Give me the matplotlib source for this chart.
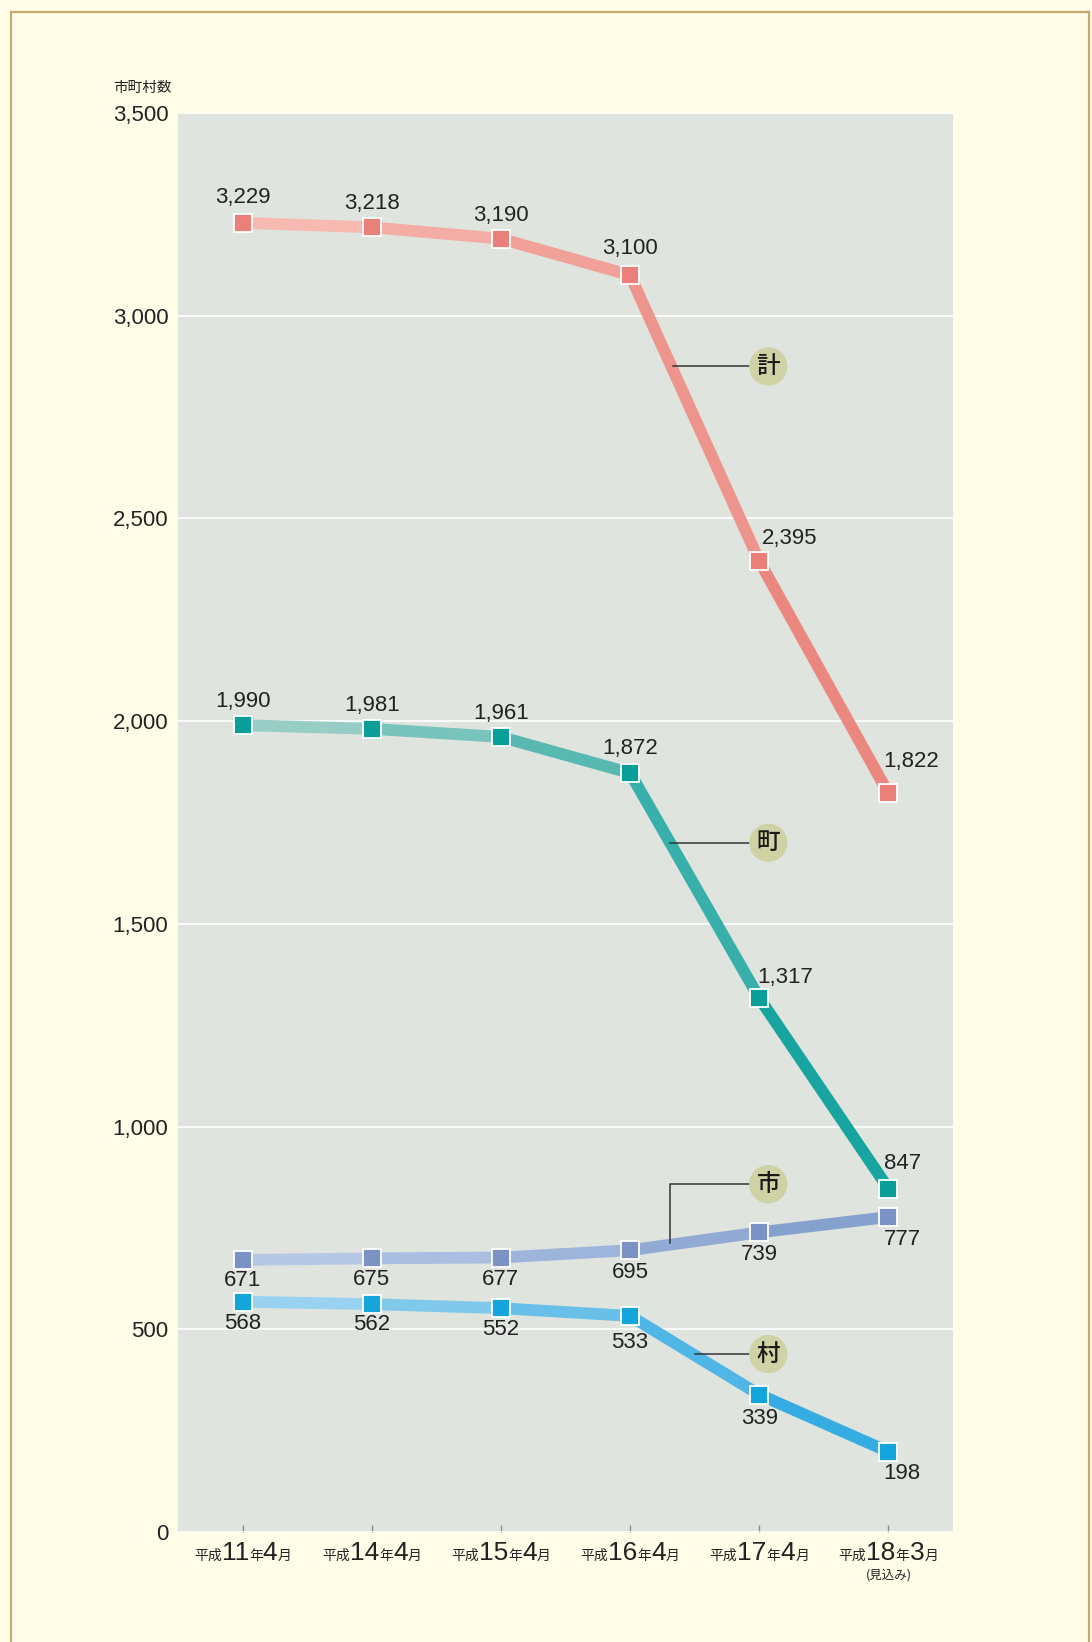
import matplotlib
matplotlib.use("Agg")
import matplotlib.pyplot as plt
import numpy as np
from matplotlib.collections import LineCollection
from matplotlib.colors import to_rgb
from matplotlib.offsetbox import TextArea, HPacker, AnnotationBbox
from matplotlib.lines import Line2D

plt.rcParams['font.family'] = ['Liberation Sans', 'Noto Sans CJK JP', 'DejaVu Sans']

# ---- data ----
periods = ["11", "14", "15", "16", "17", "18"]
months = ["4", "4", "4", "4", "4", "3"]
total = [3229, 3218, 3190, 3100, 2395, 1822]   # 計
towns = [1990, 1981, 1961, 1872, 1317, 847]    # 町
cities = [671, 675, 677, 695, 739, 777]        # 市
villages = [568, 562, 552, 533, 339, 198]      # 村
y_ticks = [0, 500, 1000, 1500, 2000, 2500, 3000, 3500]

W, H = 1092, 1642
fig = plt.figure(figsize=(W / 100, H / 100), dpi=100)
fig.patch.set_facecolor("#FFFDE8")

ax = fig.add_axes([178 / W, 1 - 1532 / H, (953 - 178) / W, (1532 - 113) / H])
ax.set_facecolor("#E0E4DF")
for s in ax.spines.values():
    s.set_visible(False)
ax.set_xlim(-0.5, 5.5)
ax.set_ylim(0, 3500)
ax.set_yticks(y_ticks)
ax.set_yticklabels([f"{v:,}" for v in y_ticks], fontsize=16, color="#222222")
ax.tick_params(axis="y", length=0, pad=7)
ax.set_xticks(range(len(periods)))
ax.tick_params(axis="x", direction="in", length=5, color="#8a8a8a", width=1, labelbottom=False)
ax.grid(axis="y", color="white", linewidth=1.2)
ax.set_axisbelow(True)

x = np.arange(len(periods))

series = [
    (total, "#F9C0B6", "#E8827A", "#E9807A"),
    (towns, "#A8D2CA", "#08A09C", "#0A9E98"),
    (cities, "#BDCDEA", "#7F9CCB", "#7A93C4"),
    (villages, "#A5D7F2", "#2AA8E0", "#14A6DA"),
]

for vals, c0, c1, mc in series:
    pts = np.column_stack([x, vals])
    segs = [pts[i:i + 2] for i in range(len(pts) - 1)]
    a, b = np.array(to_rgb(c0)), np.array(to_rgb(c1))
    n = len(segs)
    cols = [a + (b - a) * ((i + 0.5) / n) for i in range(n)]
    lc = LineCollection(segs, colors=cols, linewidths=8.5, capstyle="round", zorder=3)
    ax.add_collection(lc)
    ax.plot(x, vals, linestyle="none", marker="s", markersize=12.5, markerfacecolor=mc,
            markeredgecolor="white", markeredgewidth=1.3, zorder=5)

# data labels: offsets in points
def label(vals, offs):
    for xi, v, (dx, dy) in zip(x, vals, offs):
        ax.annotate(f"{v:,}", (xi, v), xytext=(dx, dy), textcoords="offset points",
                    ha="center", va="center", fontsize=16, color="#222222", zorder=6)

label(total, [(0, 18), (0, 17), (0, 17), (0, 19), (22, 16), (16, 23)])
label(towns, [(0, 17), (0, 17), (0, 17), (0, 18), (19, 15), (10, 18)])
label(cities, [(0, -15), (0, -15), (0, -16), (0, -16), (0, -16), (10, -16)])
label(villages, [(0, -16), (0, -15), (0, -15), (0, -19), (0, -17), (10, -16)])

# callouts
callouts = [
    ("計", 4.07, 2875, [(3.33, 2875)]),
    ("町", 4.07, 1700, [(3.31, 1700)]),
    ("市", 4.07, 858, [(3.31, 713), (3.31, 858)]),
    ("村", 4.07, 439, [(3.50, 439)]),
]
for txt, cx, cy, path in callouts:
    xs = [p[0] for p in path] + [cx - 0.1]
    ys = [p[1] for p in path] + [cy]
    ax.plot(xs, ys, color="#333333", linewidth=1.1, zorder=6)
    ax.scatter([cx], [cy], s=760, color="#CFD2A5", zorder=7, edgecolors="none")
    ax.text(cx, cy, txt, ha="center", va="center", fontsize=17, fontweight="medium",
            family=["Noto Sans CJK JP"], color="#1a1a1a", zorder=8)

# x tick labels with mixed sizes
small = dict(size=10, color="#222222", family=["Noto Sans CJK JP"])
big = dict(size=19, color="#222222", family=["Liberation Sans Narrow", "Liberation Sans"])
for i, (p, m) in enumerate(zip(periods, months)):
    parts = [TextArea("平成", textprops=small), TextArea(p, textprops=big),
             TextArea("年", textprops=small), TextArea(m, textprops=big),
             TextArea("月", textprops=small)]
    row = HPacker(children=parts, align="baseline", pad=0, sep=0)
    ab = AnnotationBbox(row, (i, 0), xybox=(0, -15), xycoords="data",
                        boxcoords="offset points", box_alignment=(0.5, 0.5),
                        frameon=False, annotation_clip=False)
    ax.add_artist(ab)
ax.annotate("(見込み)", (5, 0), xytext=(0, -31), textcoords="offset points",
            ha="center", va="center", fontsize=9, color="#222222",
            family=["Noto Sans CJK JP"], annotation_clip=False)

fig.text(113 / W, 1 - 88 / H, "市町村数", fontsize=10.5, color="#222222",
         ha="left", va="center", family=["Noto Sans CJK JP"])

# border frame
bc = "#C2A96E"
fig.add_artist(Line2D([11 / W, 11 / W], [0, 1 - 12 / H], transform=fig.transFigure, color=bc, lw=1.6))
fig.add_artist(Line2D([1089 / W, 1089 / W], [0, 1 - 12 / H], transform=fig.transFigure, color=bc, lw=1.6))
fig.add_artist(Line2D([11 / W, 1089 / W], [1 - 12 / H, 1 - 12 / H], transform=fig.transFigure, color=bc, lw=1.6))

fig.savefig("out.png", dpi=100, facecolor=fig.get_facecolor())
